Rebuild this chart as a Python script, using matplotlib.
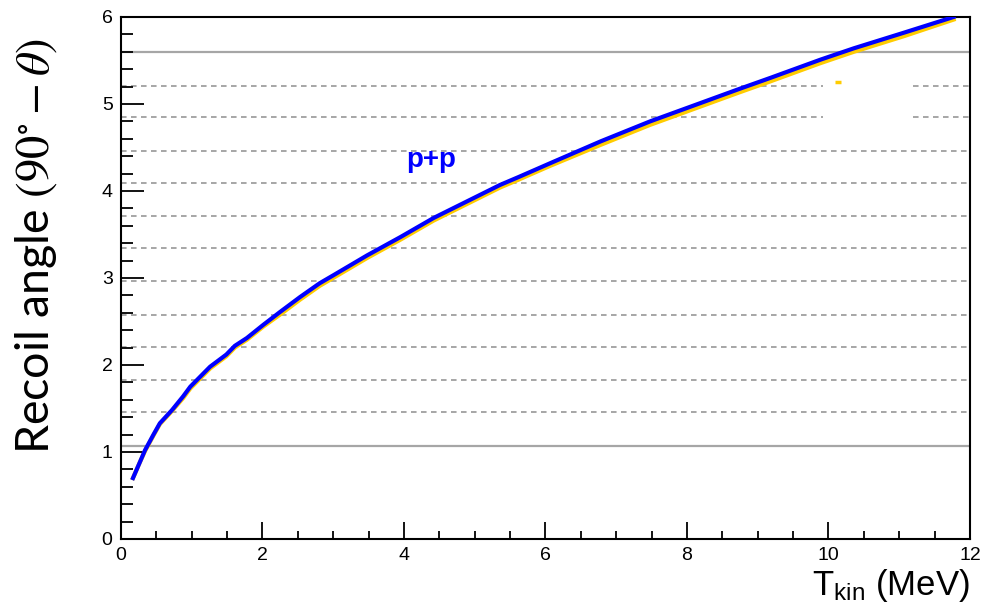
import matplotlib
matplotlib.use("Agg")
import matplotlib.pyplot as plt
from matplotlib.ticker import MultipleLocator

plt.rcParams['font.family'] = ['Liberation Sans', 'DejaVu Sans']
plt.rcParams['mathtext.fontset'] = 'custom'
plt.rcParams['mathtext.rm'] = 'Liberation Sans'
plt.rcParams['mathtext.it'] = 'Liberation Sans:italic'
plt.rcParams['lines.scale_dashes'] = False

# kinetic energy (MeV) and recoil angle (deg)
t_kin = [0.17, 0.25, 0.34, 0.46, 0.55, 0.72, 0.88, 0.98, 1.26, 1.49, 1.61,
         1.78, 2.01, 2.25, 2.53, 2.81, 3.00, 3.48, 3.95, 4.42, 4.89, 5.36,
         5.62, 6.07, 6.78, 7.48, 8.19, 8.73, 9.18, 9.89, 10.36, 11.07, 11.77]
angle_blue = [0.70, 0.85, 1.02, 1.20, 1.33, 1.48, 1.64, 1.75, 1.98, 2.12, 2.22,
              2.31, 2.46, 2.61, 2.78, 2.94, 3.03, 3.26, 3.47, 3.69, 3.88, 4.07,
              4.16, 4.32, 4.57, 4.80, 5.01, 5.17, 5.30, 5.51, 5.64, 5.82, 6.00]
angle_yellow = [0.70, 0.85, 1.01, 1.19, 1.32, 1.47, 1.62, 1.73, 1.96, 2.10, 2.20,
                2.29, 2.44, 2.58, 2.75, 2.91, 3.00, 3.23, 3.44, 3.66, 3.85, 4.04,
                4.13, 4.29, 4.53, 4.76, 4.97, 5.13, 5.26, 5.47, 5.60, 5.78, 5.97]
stray_pt = (10.14, 5.25)

# horizontal reference lines
solid_levels = [1.072, 5.594]
dashed_levels = [1.460, 1.824, 2.210, 2.575, 2.962, 3.345, 3.713, 4.095, 4.460]
broken_levels = [4.847, 5.207]   # these two have a gap
gap = (9.92, 11.19)

fig = plt.figure(figsize=(9.81, 6.06), dpi=100)
ax = fig.add_axes([0.1233, 0.1106, 0.8654, 0.8614])

grey = '#a6a6a6'
ax.hlines(solid_levels, 0, 12, colors=grey, linewidth=1.6, zorder=1)
ax.hlines(dashed_levels, 0, 12, colors=grey, linewidth=1.4,
          linestyles=(0, (4, 3.2)), zorder=1)
ax.hlines(broken_levels, 0, gap[0], colors=grey, linewidth=1.4,
          linestyles=(0, (4, 3.2)), zorder=1)
ax.hlines(broken_levels, gap[1], 12, colors=grey, linewidth=1.4,
          linestyles=(0, (4, 3.2)), zorder=1)

ax.plot(t_kin, angle_yellow, color='#ffcc00', linewidth=3, zorder=2)
ax.plot(t_kin, angle_blue, color='#0000ff', linewidth=3, zorder=3)
ax.plot(*stray_pt, marker='_', color='#ffcc00', markersize=5, mew=2.5,
        zorder=2)

ax.text(4.03, 4.28, 'p+p', color='#0000ff', fontsize=20, fontweight='bold',
        ha='left', va='baseline')

ax.set_xlim(0, 12)
ax.set_ylim(0, 6)
ax.xaxis.set_major_locator(MultipleLocator(2))
ax.xaxis.set_minor_locator(MultipleLocator(0.5))
ax.yaxis.set_major_locator(MultipleLocator(1))
ax.yaxis.set_minor_locator(MultipleLocator(0.2))

for s in ax.spines.values():
    s.set_linewidth(1.5)
ax.tick_params(axis='both', which='both', direction='in', width=1.3,
               labelsize=14, top=False, right=False)
ax.tick_params(axis='x', which='major', length=12, pad=6)
ax.tick_params(axis='x', which='minor', length=6)
ax.tick_params(axis='y', which='major', length=16.5, pad=6)
ax.tick_params(axis='y', which='minor', length=8.5)

ax.set_xlabel(r'T$_{\mathrm{kin}}$ (MeV)', fontsize=25, loc='right',
              labelpad=2)
fig.text(0.037, 0.594, r'Recoil angle $(90^{\circ} - \theta)$', rotation=90,
         ha='center', va='center', fontsize=33.5, family=['Lato', 'DejaVu Sans'],
         math_fontfamily='stix')

fig.savefig('out.png', dpi=100)
